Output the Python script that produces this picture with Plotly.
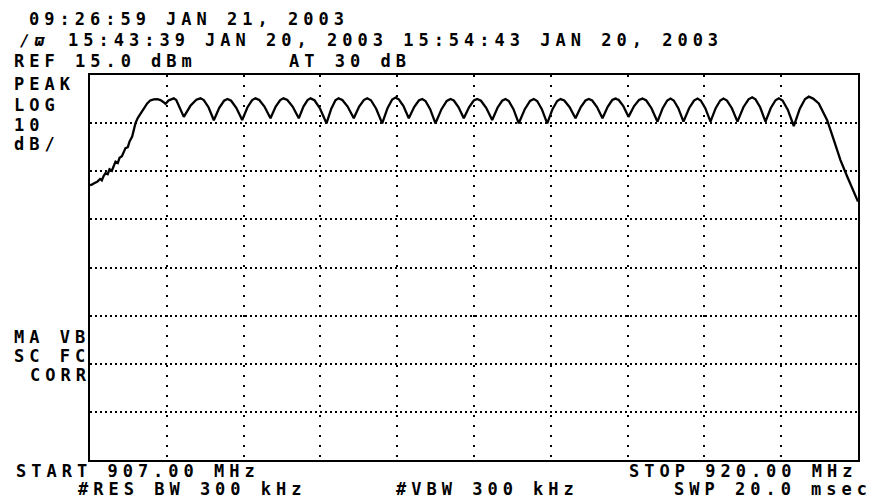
import plotly.graph_objects as go

freq_mhz = [
    907.000, 907.030, 907.070, 907.122, 907.170, 907.200, 907.230, 907.262, 907.300, 907.330,
    907.370, 907.400, 907.432, 907.470, 907.500, 907.540, 907.570, 907.601, 907.640, 907.670,
    907.714, 907.740, 907.770, 907.810, 907.855, 907.910, 907.968, 908.020, 908.080, 908.140,
    908.193, 908.240, 908.278, 908.330, 908.380, 908.418, 908.460, 908.520, 908.588, 908.700,
    908.800, 908.870, 908.926, 909.006, 909.096,
    909.188, 909.269, 909.327, 909.389, 909.476, 909.576,
    909.666, 909.745, 909.801, 909.865, 909.953, 910.055,
    910.143, 910.220, 910.275, 910.340, 910.430, 910.534,
    910.613, 910.683, 910.732, 910.800, 910.895, 911.003,
    911.084, 911.155, 911.206, 911.271, 911.361, 911.465,
    911.556, 911.635, 911.692, 911.756, 911.844, 911.946,
    912.036, 912.115, 912.171, 912.227, 912.306, 912.396,
    912.487, 912.566, 912.623, 912.679, 912.758, 912.848,
    912.950, 913.039, 913.102, 913.158, 913.237, 913.327,
    913.418, 913.497, 913.554, 913.618, 913.706, 913.808,
    913.898, 913.977, 914.033, 914.089, 914.168, 914.258,
    914.360, 914.449, 914.512, 914.569, 914.648, 914.739,
    914.829, 914.908, 914.964, 915.028, 915.116, 915.218,
    915.308, 915.387, 915.443, 915.501, 915.582, 915.675,
    915.763, 915.840, 915.895, 915.950, 916.027, 916.115,
    916.210, 916.293, 916.352, 916.416, 916.504, 916.606,
    916.694, 916.771, 916.826, 916.881, 916.958, 917.046,
    917.141, 917.224, 917.283, 917.338, 917.415, 917.503,
    917.591, 917.668, 917.723, 917.782, 917.865, 917.960,
    918.060, 918.147, 918.209, 918.265, 918.344, 918.434,
    918.524, 918.604, 918.660, 918.723, 918.811, 918.913,
    919.015, 919.104, 919.167, 919.240, 919.336, 919.410, 919.478, 919.590,
    919.703, 919.817, 919.957, 920.000,
]
level_dbm = [
    -7.9, -7.8, -7.5, -7.2, -6.6, -6.9, -6.0, -5.4, -5.6, -4.6,
    -4.9, -3.8, -3.0, -3.3, -2.2, -1.9, -0.9, -0.2, 0.0, 1.2,
    2.2, 3.6, 5.0, 6.1, 7.0, 8.2, 9.1, 9.7, 9.95, 10.0,
    9.8, 9.4, 9.0, 9.7, 10.05, 10.15, 9.8, 8.0, 6.3, 8.6,
    9.85, 10.15, 9.8, 8.3, 5.6,
    8.2, 9.65, 10.0, 9.65, 8.2, 5.64,
    8.3, 9.8, 10.15, 9.8, 8.45, 6.0,
    8.45, 9.8, 10.15, 9.8, 8.45, 6.0,
    8.45, 9.8, 10.15, 9.75, 8.0, 4.96,
    8.0, 9.75, 10.15, 9.8, 8.45, 6.0,
    8.45, 9.8, 10.15, 9.75, 8.0, 4.96,
    8.1, 9.9, 10.3, 9.95, 8.55, 6.0,
    8.35, 9.7, 10.0, 9.6, 7.9, 4.96,
    7.9, 9.6, 10.0, 9.7, 8.35, 6.0,
    8.35, 9.7, 10.0, 9.65, 8.2, 5.64,
    8.2, 9.65, 10.0, 9.6, 7.9, 4.96,
    7.9, 9.6, 10.0, 9.6, 7.9, 4.96,
    7.9, 9.6, 10.0, 9.7, 8.35, 6.0,
    8.35, 9.7, 10.0, 9.7, 8.35, 6.0,
    8.4, 9.8, 10.1, 9.8, 8.55, 6.3,
    8.55, 9.8, 10.1, 9.7, 8.1, 5.3,
    8.1, 9.7, 10.1, 9.7, 8.1, 5.3,
    8.1, 9.7, 10.1, 9.7, 8.1, 5.3,
    8.1, 9.7, 10.1, 9.7, 8.1, 5.3,
    8.3, 9.95, 10.36, 9.95, 8.3, 5.3,
    8.15, 9.75, 10.15, 9.7, 7.8, 4.4,
    8.0, 10.0, 10.5, 10.1, 9.1, 7.4, 5.6, 1.5,
    -2.7, -6.1, -10.3, -11.3,
]

start_mhz = 907.0
stop_mhz = 920.0
ref_dbm = 15.0
db_per_div = 10.0
n_xdiv = 10
n_ydiv = 8

# screen texts: (left px, center px, text)
screen_texts = [
    (28, 19, "09:26:59 JAN 21, 2003"),
    (66.7, 40, "15:43:39 JAN 20, 2003 15:54:43 JAN 20, 2003"),
    (13.3, 61, "REF 15.0 dBm"),
    (288, 61, "AT 30 dB"),
    (13.3, 84, "PEAK"),
    (13.3, 105, "LOG"),
    (13.3, 125, "10"),
    (13.3, 144, "dB/"),
    (13.3, 336.5, "MA VB"),
    (13.3, 356, "SC FC"),
    (28.5, 375, "CORR"),
    (15, 471, "START 907.00 MHz"),
    (628, 471, "STOP 920.00 MHz"),
    (77, 489, "#RES BW 300 kHz"),
    (395, 489, "#VBW 300 kHz"),
    (673, 489, "SWP 20.0 msec"),
]

W, H = 880, 504
ML, MR, MT, MB = 90, 22, 75, 44
PW, PH = W - ML - MR, H - MT - MB

fig = go.Figure()
fig.add_trace(go.Scatter(
    x=freq_mhz, y=level_dbm, mode="lines",
    line=dict(color="black", width=2.3),
    hoverinfo="skip", showlegend=False,
))

FONT = dict(family="DejaVu Sans Mono", size=17, color="black", weight="bold")

annotations = []
for px, py, txt in screen_texts:
    annotations.append(dict(
        xref="paper", yref="paper",
        x=(px - ML) / PW, y=(H - MB - py) / PH,
        xanchor="left", yanchor="middle", align="left",
        text=txt, showarrow=False, font=FONT, borderpad=0,
    ))
# trace marker symbol in front of the second line
annotations.append(dict(
    xref="paper", yref="paper",
    x=(19 - ML) / PW, y=(H - MB - 40) / PH,
    xanchor="left", yanchor="middle", align="left",
    text="<i>∕ϖ</i>", showarrow=False, borderpad=0,
    font=dict(family="DejaVu Sans Mono", size=16, color="black", weight="bold"),
))

fig.update_layout(
    width=W, height=H,
    margin=dict(l=ML, r=MR, t=MT, b=MB),
    paper_bgcolor="white", plot_bgcolor="white",
    annotations=annotations,
    xaxis=dict(
        range=[start_mhz, stop_mhz], tick0=start_mhz,
        dtick=(stop_mhz - start_mhz) / n_xdiv,
        showgrid=True, gridcolor="black", gridwidth=1.6, griddash="2px,8px",
        showticklabels=False, ticks="", zeroline=False,
        showline=True, linecolor="black", linewidth=2, mirror=True,
        fixedrange=True,
    ),
    yaxis=dict(
        range=[ref_dbm - n_ydiv * db_per_div, ref_dbm], tick0=ref_dbm,
        dtick=db_per_div,
        showgrid=True, gridcolor="black", gridwidth=1.6, griddash="2px,3px",
        showticklabels=False, ticks="", zeroline=False,
        showline=True, linecolor="black", linewidth=2, mirror=True,
        fixedrange=True,
    ),
)

post = ("document.body.style.margin='0';document.body.style.padding='0';"
        "document.body.style.overflow='hidden';"
        "document.querySelectorAll('.annotation-text').forEach(function(e){"
        "e.style.letterSpacing='5px';});")
fig.write_html("out.html", post_script=post, config={"displayModeBar": False})
